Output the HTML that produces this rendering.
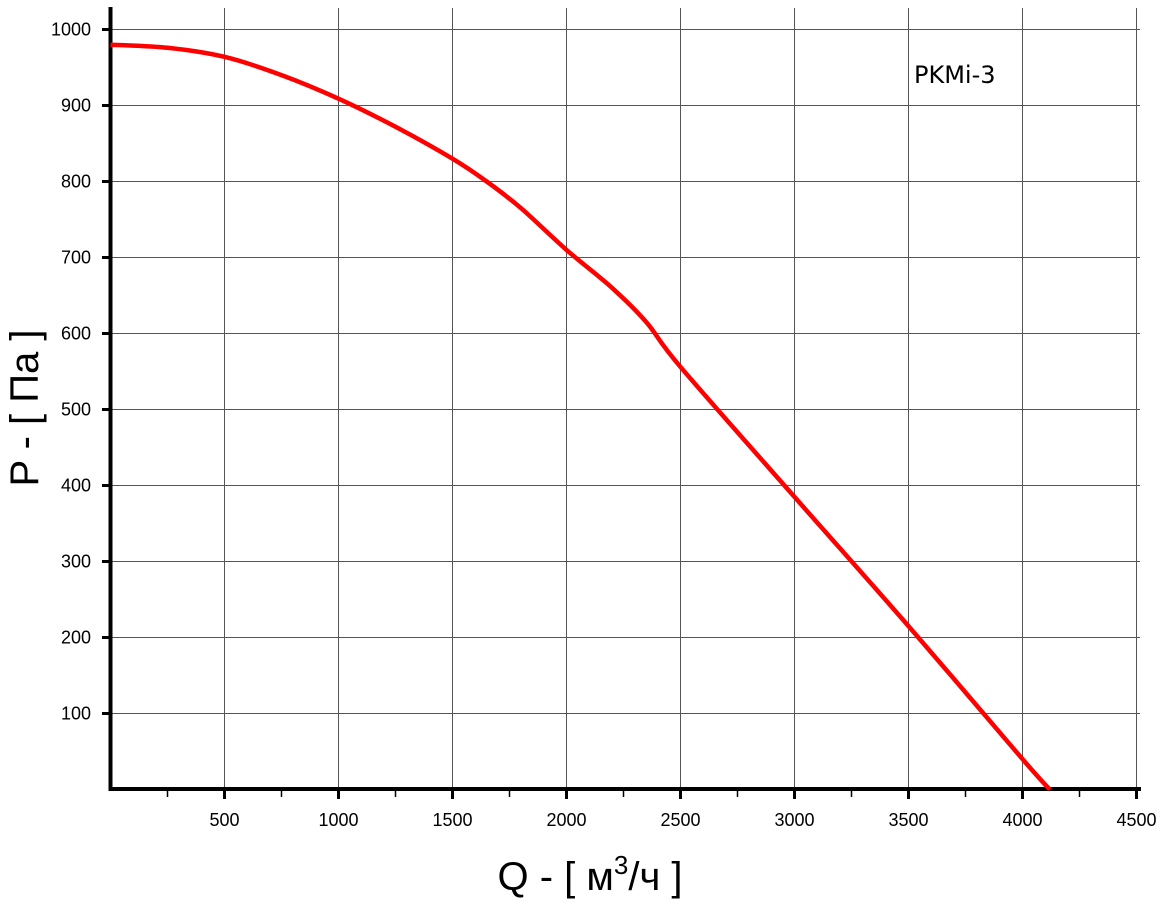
<!DOCTYPE html>
<html><head><meta charset="utf-8"><style>
body{margin:0;background:#fff}
text{font-family:"Liberation Sans",sans-serif}
</style></head><body>
<svg id="chart" width="1164" height="900" xmlns="http://www.w3.org/2000/svg">
<g id="grid"></g>
<g id="axes"></g>
<path id="curve" fill="none" stroke="#ff0000" stroke-width="4.5" stroke-linejoin="round"/>
<text x="914" y="83" font-size="24" font-family="DejaVu Sans, sans-serif" style="font-family:'DejaVu Sans',sans-serif">PKMi-3</text>
<text transform="translate(38,408) rotate(-90)" text-anchor="middle" font-size="40">P - [ Па ]</text>
<text x="590" y="890" text-anchor="middle" font-size="40">Q - [ м<tspan dy="-16" font-size="26">3</tspan><tspan dy="16">/ч ]</tspan></text>
</svg>
<script>
const xTicks=[500,1000,1500,2000,2500,3000,3500,4000,4500];
const yTicks=[100,200,300,400,500,600,700,800,900,1000];
const flowQ=[0,250,500,750,1000,1250,1500,1650,1800,2000,2200,2350,2500,3000,3500,4000,4120];
const pressureP=[980,976,964,940,909,872,830,800,765,710,660,615,556,385,215,40,0];
const X=v=>110.5+v*0.228, Y=v=>789.5-v*0.76;
const ns="http://www.w3.org/2000/svg";
const grid=document.getElementById('grid'),axes=document.getElementById('axes');
function mk(p,tag,a){const e=document.createElementNS(ns,tag);for(const k in a)e.setAttribute(k,a[k]);p.appendChild(e);return e;}
xTicks.forEach(v=>{
 const l=mk(grid,'line',{x1:X(v),x2:X(v),y1:8,y2:789,stroke:'#555','stroke-width':1});
 
 
 const t=mk(axes,'line',{x1:X(v),x2:X(v),y1:789,y2:799,stroke:'#000','stroke-width':3});
 
 
 const m=mk(axes,'line',{x1:X(v-250),x2:X(v-250),y1:789,y2:797,stroke:'#000','stroke-width':1.5});
 
 
 const tx=mk(axes,'text',{x:X(v),y:826,'text-anchor':'middle','font-size':18});
 tx.textContent=v;
 
 
});
yTicks.forEach(v=>{
 const l=mk(grid,'line',{x1:110,x2:1140,y1:Y(v),y2:Y(v),stroke:'#555','stroke-width':1});
 
 
 const t=mk(axes,'line',{x1:102,x2:111,y1:Y(v),y2:Y(v),stroke:'#000','stroke-width':3});
 
 
 const tx=mk(axes,'text',{x:91,y:Y(v)+6,'text-anchor':'end','font-size':18});
 tx.textContent=v;
 
 
});
const ya=mk(axes,'line',{x1:110.5,x2:110.5,y1:7,y2:791,stroke:'#000','stroke-width':4});


const xa=mk(axes,'line',{x1:109,x2:1141,y1:789,y2:789,stroke:'#000','stroke-width':4});


// smooth path (Catmull-Rom)
const pts=flowQ.map((q,i)=>[X(q),Y(pressureP[i])]);
let d='M'+pts[0].join(',');
for(let i=0;i<pts.length-1;i++){
 const p0=pts[i-1]||pts[i],p1=pts[i],p2=pts[i+1],p3=pts[i+2]||p2;
 const c1=[p1[0]+(p2[0]-p0[0])/6,p1[1]+(p2[1]-p0[1])/6];
 const c2=[p2[0]-(p3[0]-p1[0])/6,p2[1]-(p3[1]-p1[1])/6];
 d+=' C'+c1.join(',')+' '+c2.join(',')+' '+p2.join(',');
}
document.getElementById('curve').setAttribute('d',d);
</script>
</body></html>
